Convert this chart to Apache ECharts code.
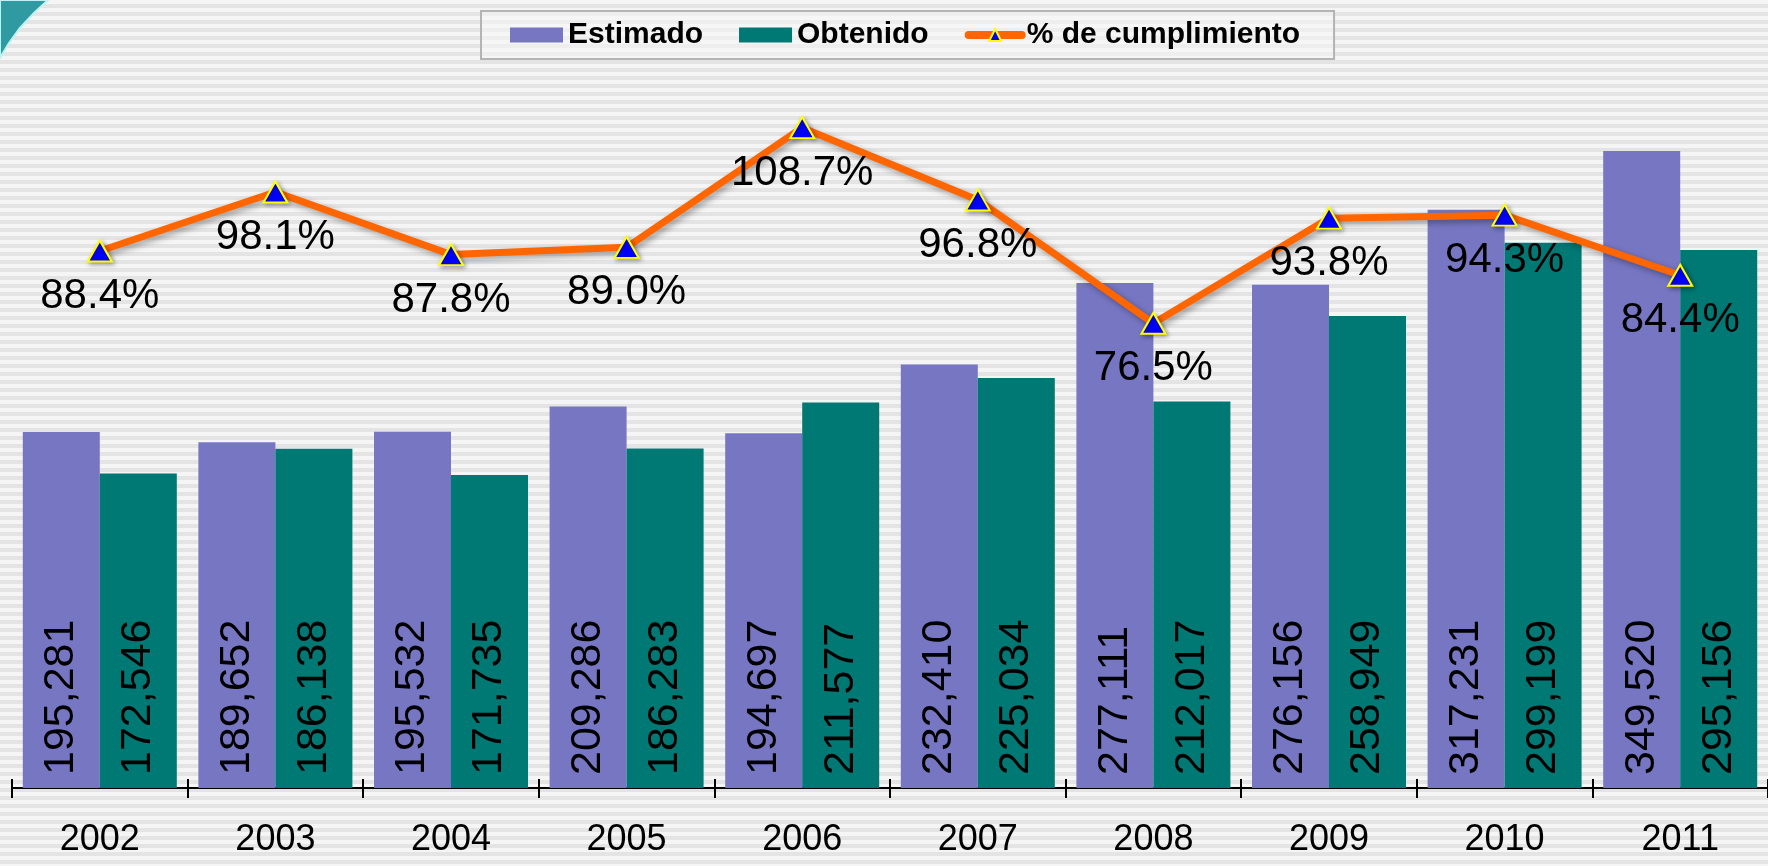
<!DOCTYPE html>
<html>
<head>
<meta charset="utf-8">
<script src="https://cdn.jsdelivr.net/npm/echarts@6/dist/echarts.min.js"></script>
<style>
  html, body {
    margin: 0;
    padding: 0;
  }
  body {
    background: repeating-linear-gradient(to bottom, #f5f5f5 0px, #f5f5f5 4px, #e4e4e4 4px, #e4e4e4 8px);
  }
  #chart {
    width: 1768px;
    height: 866px;
  }
</style>
</head>
<body>
<div id="chart"></div>
<script>
const years = ["2002", "2003", "2004", "2005", "2006", "2007", "2008", "2009", "2010", "2011"];
const estimado = [195281, 189652, 195532, 209286, 194697, 232410, 277111, 276156, 317231, 349520];
const obtenido = [172546, 186138, 171735, 186283, 211577, 225034, 212017, 258949, 299199, 295156];
const cumplimiento = [88.4, 98.1, 87.8, 89.0, 108.7, 96.8, 76.5, 93.8, 94.3, 84.4];

const chart = echarts.init(document.getElementById("chart"));

const barLabel = {
  show: true,
  position: "insideBottom",
  rotate: 90,
  align: "left",
  verticalAlign: "middle",
  distance: 13,
  color: "#000",
  fontFamily: "Liberation Sans, Arial, sans-serif",
  fontSize: 43,
  formatter: function(p) {
    return p.value.toLocaleString("en-US");
  }
};

chart.setOption({
  backgroundColor: "transparent",
  animation: false,
  graphic: [
    {
      type: "polygon",
      shape: { points: [[0, 0], [48, 0], [34, 13], [20, 28], [9, 43], [0, 58]] },
      style: { fill: "#2f9aa2", stroke: "#bff3f3", lineWidth: 2 }
    }
  ],
  legend: {
    left: 481,
    top: 11,
    padding: [9, 34, 9, 29],
    itemGap: 36,
    itemWidth: 53,
    itemHeight: 15,
    borderColor: "#b4b4b4",
    borderWidth: 2,
    backgroundColor: "rgba(248,248,248,0.5)",
    textStyle: {
      fontFamily: "Liberation Sans, Arial, sans-serif",
      fontWeight: "bold",
      fontSize: 30,
      color: "#000"
    },
    data: [
      { name: "Estimado", icon: "rect" },
      { name: "Obtenido", icon: "rect" },
      { name: "% de cumplimiento", lineStyle: { width: 8, cap: "round" } }
    ]
  },
  grid: {
    left: 12,
    right: -4,
    top: 59,
    bottom: 78,
    containLabel: false
  },
  xAxis: [
    {
      type: "category",
      data: years,
      boundaryGap: true,
      axisLine: { lineStyle: { color: "#000", width: 2 } },
      axisTick: { show: true, length: 10, lineStyle: { color: "#000", width: 2 } },
      axisLabel: {
        margin: 34,
        color: "#000",
        fontFamily: "Liberation Sans, Arial, sans-serif",
        fontSize: 36
      },
      splitLine: { show: false }
    },
    {
      type: "category",
      data: years,
      position: "bottom",
      boundaryGap: true,
      axisLine: { show: false },
      axisTick: { show: true, inside: true, length: 9, lineStyle: { color: "#000", width: 2 } },
      axisLabel: { show: false },
      splitLine: { show: false }
    }
  ],
  yAxis: [
    { type: "value", min: 0, max: 400000, show: false, splitLine: { show: false } },
    { type: "value", min: 0, max: 120, show: false, splitLine: { show: false } }
  ],
  series: [
    {
      name: "Estimado",
      type: "bar",
      data: estimado,
      barWidth: 77,
      barGap: "0%",
      itemStyle: { color: "#7676c3" },
      label: barLabel
    },
    {
      name: "Obtenido",
      type: "bar",
      data: obtenido,
      barWidth: 77,
      barGap: "0%",
      itemStyle: { color: "#007874" },
      label: barLabel
    },
    {
      name: "% de cumplimiento",
      type: "line",
      yAxisIndex: 1,
      data: cumplimiento,
      symbol: "triangle",
      symbolSize: [24, 21],
      lineStyle: {
        color: "#ff6600",
        width: 7,
        shadowColor: "rgba(0,0,0,0.35)",
        shadowBlur: 6,
        shadowOffsetX: 3,
        shadowOffsetY: 3
      },
      itemStyle: {
        color: "#0000ff",
        borderColor: "#ffff00",
        borderWidth: 2,
        shadowColor: "rgba(0,0,0,0.35)",
        shadowBlur: 5,
        shadowOffsetX: 2,
        shadowOffsetY: 2
      },
      label: {
        show: true,
        position: "bottom",
        distance: 13,
        color: "#000",
        fontFamily: "Liberation Sans, Arial, sans-serif",
        fontSize: 42,
        formatter: function(p) {
          return p.value.toFixed(1) + "%";
        }
      },
      z: 5
    }
  ]
});
</script>
</body>
</html>
